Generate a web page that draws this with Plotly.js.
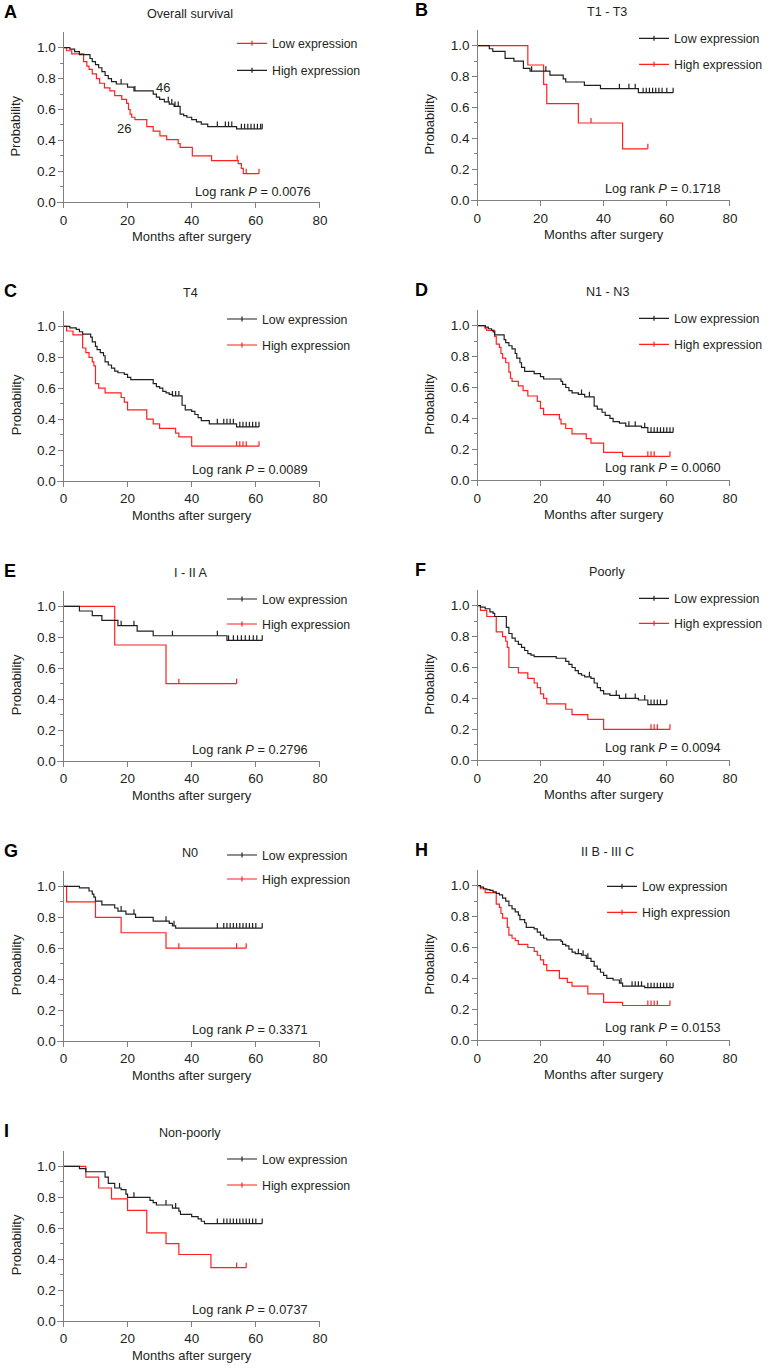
<!DOCTYPE html>
<html><head><meta charset="utf-8">
<script src="https://cdn.plot.ly/plotly-3.0.1.min.js"></script>
<style>html,body{margin:0;padding:0;background:#fff}</style>
</head><body>
<div id="chart" style="width:776px;height:1369px"></div>
<script>
// ---------------- DATA ----------------
const panelLetters = ["A","B","C","D","E","F","G","H","I"];
const panelTitles = ["Overall survival","T1 - T3","T4","N1 - N3","I - II A","Poorly","N0","II B - III C","Non-poorly"];
const logRankP = ["0.0076","0.1718","0.0089","0.0060","0.2796","0.0094","0.3371","0.0153","0.0737"];
const seriesNames = ["Low expression","High expression"];
const xTicks = [0,20,40,60,80];
const xAxisTitle = "Months after surgery";
const yAxisTitle = "Probability";
const numberLabels = ["46","26"];
const numberLabelX = [31,19];
const numberLabelY = [0.745,0.48];

// A – Overall survival
const A_low_t = [1,2.6,6.3,7.3,8,9,10.3,11.3,12.8,14.5,16,18.2,19.7,20.3,20.8,21.3,22.3,26,28,30.1,32.2,35.8,36.4,40.2,46.2,54.5,55.5,56.1];
const A_low_s = [0.98,0.96,0.91,0.88,0.86,0.83,0.80,0.77,0.74,0.72,0.69,0.665,0.64,0.60,0.57,0.55,0.535,0.49,0.46,0.43,0.405,0.38,0.355,0.30,0.27,0.25,0.22,0.185];
const A_low_end = 61;
const A_low_cens = [54.2,57,61];
const A_high_t = [2,3.5,5,8.3,9,10,11,12,13,14,15,16.5,20,22,28,29,30,31.5,33,34.5,36.4,37.5,38.5,40,41.5,43,45,54];
const A_high_s = [0.99,0.975,0.955,0.93,0.91,0.89,0.87,0.845,0.82,0.80,0.78,0.765,0.745,0.72,0.70,0.68,0.665,0.65,0.635,0.62,0.57,0.56,0.55,0.535,0.52,0.505,0.49,0.475];
const A_high_end = 62;
const A_high_cens = [18,22.3,32.7,33.8,34.8,35.8,48,50.5,51.5,52.5,55.5,56.5,57.5,58.5,59.5,60.5,61.5,62];

// B – T1 - T3
const B_low_t = [3.8,4.9,8.8,11.6,14.6,16.7,23,27.2,28,33.9,39,51];
const B_low_s = [0.98,0.963,0.918,0.90,0.853,0.835,0.81,0.785,0.765,0.743,0.722,0.696];
const B_low_end = 62;
const B_low_cens = [17.2,21.7,45,48,50,52.5,53.5,54.5,55.5,56.5,57.5,58.5,60,62];
const B_high_t = [16,21,22,32,46];
const B_high_s = [0.875,0.75,0.625,0.5,0.333];
const B_high_end = 54;
const B_high_cens = [36,54];

// C – T4
const C_low_t = [2,4,5,6,8.5,9,10,10.5,11.5,12.5,13,14,15,16,17,19,20,21,28,29,30,31,32,33,34,37,38,40,41,42,43,45.5,54];
const C_low_s = [0.99,0.98,0.965,0.95,0.93,0.90,0.87,0.85,0.83,0.81,0.77,0.75,0.73,0.71,0.70,0.69,0.67,0.655,0.63,0.61,0.60,0.58,0.57,0.56,0.55,0.49,0.46,0.45,0.43,0.41,0.39,0.37,0.35];
const C_low_end = 61;
const C_low_cens = [34,35,36,48,50,51,52,53,55,56,57,58,59,60,61];
const C_high_t = [1,3,6,7,8,9,9.5,10,11,13,18,19,20,26,28,30,35,36,40];
const C_high_s = [0.97,0.945,0.86,0.83,0.80,0.77,0.745,0.63,0.60,0.57,0.54,0.51,0.46,0.40,0.37,0.34,0.31,0.285,0.225];
const C_high_end = 61;
const C_high_cens = [54,55,56,57,61];

// D – N1 - N3
const D_low_t = [2.5,3.5,4.5,5,5.5,8.5,9,10,11,12,12.5,13.5,14,15,18,20,21,26.5,27,28,29,30,32,34,37,38,39.5,40.5,42,43,45,47,52,54];
const D_low_s = [0.99,0.98,0.97,0.96,0.94,0.91,0.89,0.87,0.85,0.82,0.79,0.76,0.73,0.705,0.69,0.67,0.655,0.64,0.62,0.60,0.58,0.565,0.555,0.54,0.48,0.46,0.44,0.42,0.40,0.38,0.37,0.35,0.34,0.31];
const D_low_end = 62;
const D_low_cens = [33,35.5,48,50,53,55,56,57,58,59,60,61,62];
const D_high_t = [2.5,3,5.5,6,7,7.5,8,9,10,10.5,11,13,14.5,16,19,20,21,26,26.5,28,30,34.5,36,40,46];
const D_high_s = [0.98,0.97,0.93,0.88,0.86,0.82,0.79,0.76,0.70,0.66,0.64,0.61,0.58,0.545,0.51,0.465,0.425,0.395,0.365,0.335,0.30,0.27,0.24,0.18,0.155];
const D_high_end = 61;
const D_high_cens = [54,55,56,61];

// E – I - II A
const E_low_t = [5,9,12,17,23,28,51];
const E_low_s = [0.97,0.94,0.91,0.875,0.84,0.81,0.78];
const E_low_end = 62;
const E_low_cens = [18,22,34,48,51.5,53,54.3,55.5,56.7,58,59.2,60.3,62];
const E_high_t = [16,32];
const E_high_s = [0.75,0.5];
const E_high_end = 54;
const E_high_cens = [36,54];

// F – Poorly
const F_low_t = [1,2.5,4,5,5.5,9.2,10,11,12,13,14,15,16,17,18,25,28,29,30,31,32,33,34,36,37,38,39,40,42,45,51,54];
const F_low_s = [0.99,0.98,0.96,0.95,0.93,0.86,0.82,0.79,0.77,0.75,0.73,0.71,0.69,0.68,0.67,0.66,0.64,0.62,0.60,0.58,0.56,0.55,0.54,0.53,0.50,0.47,0.45,0.43,0.42,0.40,0.39,0.36];
const F_low_end = 60;
const F_low_cens = [35.5,44,47,50,53,55,56,57,58,60];
const F_high_t = [1,3,6,8,9,9.5,10,13,16,18,19,20,21,22,28,30,35,40];
const F_high_s = [0.97,0.93,0.83,0.80,0.77,0.73,0.60,0.565,0.53,0.50,0.47,0.43,0.40,0.365,0.33,0.295,0.265,0.20];
const F_high_end = 61;
const F_high_cens = [55,56,57,61];

// G – N0
const G_low_t = [5,8,9,9.5,10,12,16,17,19.5,22.5,28,33,34,35];
const G_low_s = [0.99,0.97,0.95,0.93,0.905,0.88,0.86,0.84,0.82,0.80,0.775,0.76,0.745,0.73];
const G_low_end = 62;
const G_low_cens = [18,22,32,34.5,48,50,51,52,53,54,55,56,57,58,59,60,62];
const G_high_t = [1,10,18,32];
const G_high_s = [0.9,0.8,0.7,0.6];
const G_high_end = 57;
const G_high_cens = [36,54,57];

// H – II B - III C
const H_low_t = [1,2,3,4,5,6,7,8,9,10,11,12,13,13.5,15,15.5,18,19,20,21,22,26.5,27,28,29,30,31,33,34.5,36,37,38,39,40,41,43,45,46,53];
const H_low_s = [0.99,0.98,0.975,0.97,0.96,0.95,0.94,0.92,0.90,0.87,0.85,0.83,0.81,0.78,0.76,0.73,0.72,0.70,0.68,0.66,0.65,0.64,0.62,0.61,0.59,0.57,0.56,0.55,0.53,0.51,0.48,0.46,0.44,0.42,0.40,0.39,0.37,0.35,0.34];
const H_low_end = 62;
const H_low_cens = [32,33.5,35,45.5,49,50,51,52,54,55,56,57,58,59,60,61,62];
const H_high_t = [1,2.5,6,7,7.5,8,9.5,10,11,12,13,16,18,19,20,21,22,26,28.5,30,35,40,46];
const H_high_s = [0.98,0.955,0.88,0.86,0.82,0.79,0.73,0.68,0.66,0.645,0.62,0.60,0.575,0.55,0.52,0.49,0.45,0.40,0.375,0.35,0.30,0.245,0.225];
const H_high_end = 61;
const H_high_cens = [54,55,56,57,61];

// I – Non-poorly
const I_low_t = [5,7,13,14,16,18,19.5,20,27,28,29,34,36,36.5,40,42,43,44];
const I_low_s = [0.985,0.965,0.93,0.89,0.86,0.85,0.82,0.80,0.78,0.765,0.75,0.73,0.71,0.69,0.675,0.66,0.645,0.63];
const I_low_end = 62;
const I_low_cens = [17.5,22,32,35,48,50,51,52,53,54,55,56,57,58,59,60,62];
const I_high_t = [7,11,15,20,26,32,36,46];
const I_high_s = [0.93,0.86,0.79,0.715,0.57,0.5,0.43,0.345];
const I_high_end = 57;
const I_high_cens = [54,57];

// ---------------- STYLE / GEOMETRY ----------------
const W = 776, H = 1369;
const RED = '#ff2020', BLACK = '#231f20', AXIS = '#808080', TXT = '#231f20';
const FONT = 'Liberation Sans, Arial, sans-serif';
const UNIT_PX = 154.5;           // pixels per 1.0 probability
const COLS = [{t0:63.4, t80:320, title:190, letter:2, ytitle:16},
              {t0:477.3, t80:730, title:607, letter:413, ytitle:430}];
const ZERO_Y = [202.3,200.3,481,480.3,761,760.3,1041,1040.3,1321];
const LEG_TEXT_X = [272,674,262,674,262,674,262,642,262];
const LEG_ROWS = [[-159,-132],[-162,-136],[-162,-136],[-162,-136],[-162,-137],[-162,-137],[-186,-162],[-154,-128],[-162,-136]];
const LR_X = [193,603,190,603,190,603,190,603,190];
const LR_DY = [-11,-12,-12,-13,-12,-13,-12,-13,-12];
const CENSOR_SIZE = 3.6;          // line-ns length = 1.4 * size px
const CENSOR_OFF_PX = 2.5;

const panels = [
  {low:{t:A_low_t,s:A_low_s,end:A_low_end,cens:A_low_cens}, high:{t:A_high_t,s:A_high_s,end:A_high_end,cens:A_high_cens}, lowRed:true},
  {low:{t:B_low_t,s:B_low_s,end:B_low_end,cens:B_low_cens}, high:{t:B_high_t,s:B_high_s,end:B_high_end,cens:B_high_cens}, lowRed:false},
  {low:{t:C_low_t,s:C_low_s,end:C_low_end,cens:C_low_cens}, high:{t:C_high_t,s:C_high_s,end:C_high_end,cens:C_high_cens}, lowRed:false},
  {low:{t:D_low_t,s:D_low_s,end:D_low_end,cens:D_low_cens}, high:{t:D_high_t,s:D_high_s,end:D_high_end,cens:D_high_cens}, lowRed:false},
  {low:{t:E_low_t,s:E_low_s,end:E_low_end,cens:E_low_cens}, high:{t:E_high_t,s:E_high_s,end:E_high_end,cens:E_high_cens}, lowRed:false},
  {low:{t:F_low_t,s:F_low_s,end:F_low_end,cens:F_low_cens}, high:{t:F_high_t,s:F_high_s,end:F_high_end,cens:F_high_cens}, lowRed:false},
  {low:{t:G_low_t,s:G_low_s,end:G_low_end,cens:G_low_cens}, high:{t:G_high_t,s:G_high_s,end:G_high_end,cens:G_high_cens}, lowRed:false},
  {low:{t:H_low_t,s:H_low_s,end:H_low_end,cens:H_low_cens}, high:{t:H_high_t,s:H_high_s,end:H_high_end,cens:H_high_cens}, lowRed:false},
  {low:{t:I_low_t,s:I_low_s,end:I_low_end,cens:I_low_cens}, high:{t:I_high_t,s:I_high_s,end:I_high_end,cens:I_high_cens}, lowRed:false}
];

function stepAt(c, x){ let v = 1; for(let i=0;i<c.t.length;i++){ if(c.t[i] <= x) v = c.s[i]; } return v; }
const px2x = p => p / W;
const px2y = p => 1 - p / H;
const CENSOR_OFF = CENSOR_OFF_PX / UNIT_PX;

const traces = [];
const layout = {
  width: W, height: H, margin:{l:0,r:0,t:0,b:0},
  paper_bgcolor:'#fff', plot_bgcolor:'#fff', showlegend:true,
  font:{family:FONT, color:TXT, size:12},
  annotations: []
};

panels.forEach((p, i) => {
  const col = COLS[i % 2];
  const sfx = i === 0 ? '' : String(i + 1);
  const xa = 'x' + sfx, ya = 'y' + sfx;
  const ppu = (col.t80 - col.t0) / 80;
  const xStartPx = col.t0 - 2 * ppu;
  const y0 = ZERO_Y[i];
  const yTop = y0 - 1.1 * UNIT_PX;

  layout['xaxis' + sfx] = {
    domain:[px2x(xStartPx), px2x(col.t80)], range:[-2, 80.01], anchor: ya,
    tickmode:'array', tickvals:xTicks, ticks:'outside', ticklen:5, tickcolor:AXIS, tickwidth:1,
    showline:true, linecolor:AXIS, linewidth:1, showgrid:false, zeroline:false,
    tickfont:{family:FONT, size:13.5, color:TXT}, fixedrange:true
  };
  layout['yaxis' + sfx] = {
    domain:[px2y(y0), px2y(yTop)], range:[0, 1.099], anchor:'free', position: px2x(col.t0),
    tickmode:'linear', tick0:0, dtick:0.2, tickformat:'.1f', ticks:'outside', ticklen:5, tickcolor:AXIS, tickwidth:1,
    minor:{tickmode:'linear', tick0:0, dtick:0.1, ticks:'outside', ticklen:3, tickcolor:AXIS, tickwidth:1},
    showline:true, linecolor:AXIS, linewidth:1, showgrid:false, zeroline:false,
    tickfont:{family:FONT, size:13.5, color:TXT}, fixedrange:true
  };

  const groups = [
    {key:'low', name:seriesNames[0], color: p.lowRed ? RED : BLACK},
    {key:'high', name:seriesNames[1], color: p.lowRed ? BLACK : RED}
  ];
  // draw red first so black is on top
  const drawOrder = groups.slice().sort((a,b) => (a.color === RED ? -1 : 1) - (b.color === RED ? -1 : 1));
  drawOrder.forEach(g => {
    const c = p[g.key];
    traces.push({
      type:'scatter', mode:'lines', xaxis:xa, yaxis:ya, showlegend:false, hoverinfo:'skip',
      x:[0, ...c.t, c.end], y:[1, ...c.s, c.s[c.s.length-1]],
      line:{shape:'hv', color:g.color, width:1.2}
    });
    traces.push({
      type:'scatter', mode:'markers', xaxis:xa, yaxis:ya, showlegend:false, hoverinfo:'skip',
      x:c.cens, y:c.cens.map(t => stepAt(c, t) + CENSOR_OFF),
      marker:{symbol:'line-ns', size:CENSOR_SIZE, color:g.color, line:{color:g.color, width:1.2}}
    });
  });
  // legend entries (one legend per entry to place rows exactly)
  groups.forEach((g, k) => {
    const legKey = 'legend' + ((2*i + k) === 0 ? '' : String(2*i + k + 1));
    traces.push({
      type:'scatter', mode:'lines+markers', xaxis:xa, yaxis:ya, x:[null], y:[null],
      name:g.name, legend:legKey, showlegend:true, hoverinfo:'skip',
      line:{color:g.color, width:1.2},
      marker:{symbol:'line-ns', size:CENSOR_SIZE, color:g.color, line:{color:g.color, width:1.2}}
    });
    layout[legKey] = {
      x: px2x(LEG_TEXT_X[i] - 40), y: px2y(y0 + LEG_ROWS[i][k]),
      xanchor:'left', yanchor:'middle', bgcolor:'rgba(0,0,0,0)', borderwidth:0,
      font:{family:FONT, size:12.3, color:TXT}, itemclick:false, itemdoubleclick:false
    };
  });

  // panel letter
  layout.annotations.push({xref:'paper', yref:'paper', x:px2x(col.letter), y:px2y(y0 - 190), xanchor:'left', yanchor:'middle',
    text:'<b>' + panelLetters[i] + '</b>', showarrow:false, font:{family:FONT, size:18, color:'#000'}});
  // title
  layout.annotations.push({xref:'paper', yref:'paper', x:px2x(col.title), y:px2y(y0 - 188.5), xanchor:'center', yanchor:'middle',
    text:panelTitles[i], showarrow:false, font:{family:FONT, size:12.6, color:TXT}});
  // log rank
  layout.annotations.push({xref:'paper', yref:'paper', x:px2x(LR_X[i]), y:px2y(y0 + LR_DY[i]), xanchor:'left', yanchor:'middle',
    text:'Log rank <i>P</i> = ' + logRankP[i], showarrow:false, font:{family:FONT, size:12.8, color:TXT}});
  // axis titles
  layout.annotations.push({xref:'paper', yref:'paper', x:px2x((col.t0 + col.t80)/2), y:px2y(y0 + 34), xanchor:'center', yanchor:'middle',
    text:xAxisTitle, showarrow:false, font:{family:FONT, size:13, color:TXT}});
  layout.annotations.push({xref:'paper', yref:'paper', x:px2x(col.ytitle), y:px2y(y0 - 0.49*UNIT_PX), xanchor:'center', yanchor:'middle',
    text:yAxisTitle, textangle:-90, showarrow:false, font:{family:FONT, size:13, color:TXT}});
});

// number labels in panel A
numberLabels.forEach((t, k) => {
  layout.annotations.push({xref:'x', yref:'y', x:numberLabelX[k], y:numberLabelY[k], text:t, showarrow:false,
    xanchor:'center', yanchor:'middle', font:{family:FONT, size:13, color:TXT}});
});

Plotly.newPlot('chart', traces, layout, {displayModeBar:false, staticPlot:true});
</script>
</body></html>
